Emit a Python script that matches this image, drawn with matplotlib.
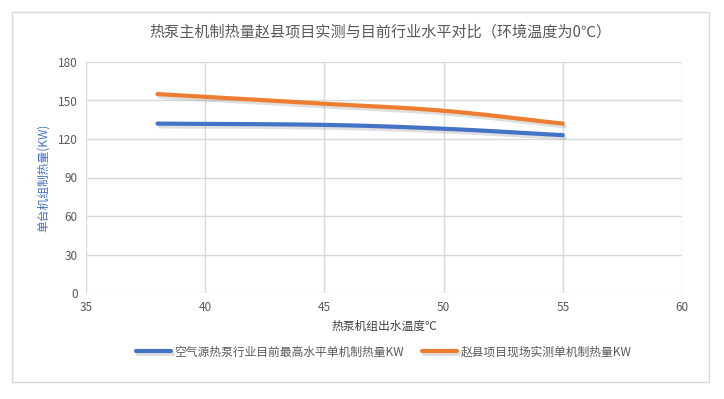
import numpy as np
import matplotlib.pyplot as plt
import matplotlib.patheffects as pe
from matplotlib.patches import Rectangle

plt.rcParams['font.family'] = ['Noto Sans CJK SC', 'DejaVu Sans']

# water outlet temperature (C)
temps = [38, 45, 50, 55]
# industry best level per unit heating capacity (kW)
industry_kw = [132, 131, 128, 123]
# Zhao county measured per unit heating capacity (kW)
zhaoxian_kw = [155, 147.5, 142, 132]

title = "热泵主机制热量赵县项目实测与目前行业水平对比（环境温度为0℃）"
labels = ["空气源热泵行业目前最高水平单机制热量KW", "赵县项目现场实测单机制热量KW"]


# smooth curve through the points (like excel's smoothed line)
def smooth(x, y, n=40):
    x = np.asarray(x, float)
    y = np.asarray(y, float)
    px = np.concatenate([[2 * x[0] - x[1]], x, [2 * x[-1] - x[-2]]])
    py = np.concatenate([[2 * y[0] - y[1]], y, [2 * y[-1] - y[-2]]])
    xs, ys = [], []
    t = np.linspace(0, 1, n)
    for i in range(1, len(px) - 2):
        for arr, out in ((px, xs), (py, ys)):
            p0, p1, p2, p3 = arr[i - 1:i + 3]
            out.extend(0.5 * ((2 * p1) + (-p0 + p2) * t
                              + (2 * p0 - 5 * p1 + 4 * p2 - p3) * t ** 2
                              + (-p0 + 3 * p1 - 3 * p2 + p3) * t ** 3))
    return xs, ys


fig = plt.figure(figsize=(7.24, 3.99), dpi=100)
fig.patches.append(Rectangle((12 / 724, 1 - 382 / 399), 697 / 724, 370 / 399,
                             transform=fig.transFigure, fill=False,
                             edgecolor="#d9d9d9", linewidth=1))
ax = fig.add_axes([86 / 724, 1 - 293 / 399, 596 / 724, 231 / 399])

shadow = [pe.SimpleLineShadow(offset=(1.5, -2), shadow_color="gray", alpha=0.25),
          pe.Normal()]
for ys, color, lab in [(industry_kw, "#4472c4", labels[0]),
                       (zhaoxian_kw, "#ed7d31", labels[1])]:
    sx, sy = smooth(temps, ys)
    ax.plot(sx, sy, color=color, linewidth=3, label=lab,
            solid_capstyle="round", path_effects=shadow)

ax.set_xlim(35, 60)
ax.set_ylim(0, 180)
ax.set_xticks(range(35, 61, 5))
ax.set_yticks(range(0, 181, 30))
ax.grid(True, color="#d9d9d9", linewidth=1)
ax.set_axisbelow(True)
for s in ax.spines.values():
    s.set_visible(False)
ax.tick_params(length=0, labelsize=8.5, colors="#595959", pad=6)

ax.set_xlabel("热泵机组出水温度℃", fontsize=8.5, color="#404040", labelpad=4)
ax.set_ylabel("单台机组制热量(KW)", fontsize=8.5, color="#4472c4", labelpad=6)
fig.text(0.526, 1 - 32 / 399, title, ha="center", va="center",
         fontsize=10.9, color="#595959")

fig.legend(loc="center", bbox_to_anchor=(0.53, 1 - 352 / 399), ncol=2,
           frameon=False, fontsize=8.5, labelcolor="#595959",
           handlelength=3, columnspacing=1.5, handletextpad=0.3)

fig.savefig("out.png", dpi=100)
